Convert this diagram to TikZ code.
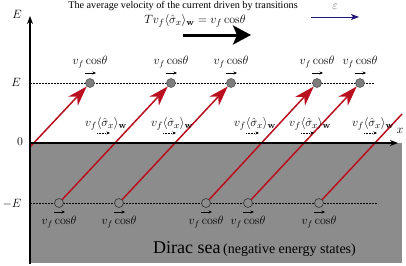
\documentclass[tikz,border=0pt]{standalone}
\usepackage[no-math]{fontspec}
\setmainfont{Liberation Serif}
\usetikzlibrary{arrows.meta}
\definecolor{seagray}{RGB}{140,140,140}
\definecolor{redln}{RGB}{185,15,30}
\definecolor{navyarr}{RGB}{30,20,120}
\definecolor{dotfill}{RGB}{125,125,125}
\definecolor{epsgray}{RGB}{90,90,90}
\newcommand{\vcos}{v_f\,\mathrm{cos}\theta}
\tikzset{
  upc/.style={circle, draw=black!70, fill=dotfill, inner sep=0pt, minimum size=9pt, line width=0.5pt},
  lowc/.style={circle, draw=black!80, fill=seagray, inner sep=0pt, minimum size=9pt, line width=0.6pt},
  redarrow/.style={draw=redln, line width=1.5pt, -{Stealth[length=20pt,width=13pt,inset=6pt]}},
  redplain/.style={draw=redln, line width=1.5pt},
  levelline/.style={dash pattern=on 1.6pt off 1.4pt, line width=0.6pt},
  vlab/.style={inner sep=0pt, font=\fontsize{12}{13}\selectfont},
  wlab/.style={inner sep=0pt, font=\fontsize{12.5}{13}\selectfont},
  smallarr/.style={line width=0.5pt, -{Stealth[length=3.5pt,width=3pt]}},
  dotarr/.style={line width=0.5pt, dash pattern=on 0.8pt off 0.8pt, -{Stealth[length=3.5pt,width=3pt]}},
  axislab/.style={inner sep=0pt, font=\fontsize{13}{14}\selectfont},
  axisline/.style={line width=1.3pt},
}
\begin{document}
\begin{tikzpicture}[x=1pt,y=-1pt]
\useasboundingbox (0,0) rectangle (406,265);
% Dirac sea
\fill[seagray] (30,143) rectangle (402,263);
% level lines
\coordinate (ul0) at (30,83); \coordinate (ul1) at (374,83);
\coordinate (ll0) at (30,203); \coordinate (ll1) at (378,203);
\draw[levelline] (ul0) -- (ul1);
\draw[levelline] (ll0) -- (ll1);
% circles
\foreach \i/\x in {1/90,2/171,3/231,4/317,5/360}{
  \node[upc] (u\i) at (\x,83) {};
  \node[vlab] (ut\i) at (\x,62) {$\vcos$};
  \coordinate (ua\i) at (\x-5,73);
  \coordinate (ub\i) at (\x+6,73);
  \draw[smallarr] (ua\i) -- (ub\i);
}
\foreach \i/\x in {1/59,2/119,3/206,4/248,5/319}{
  \node[lowc] (l\i) at (\x,203) {};
  \node[vlab] (lt\i) at (\x,222) {$\vcos$};
  \coordinate (la\i) at (\x-5,212);
  \coordinate (lb\i) at (\x+6,212);
  \draw[smallarr] (la\i) -- (lb\i);
}
% red transitions
\coordinate (s0) at (30,147);
\coordinate (e6) at (402,114);
\draw[redarrow] (s0) -- (u1);
\draw[redarrow] (l1) -- (u2);
\draw[redarrow] (l2) -- (u3);
\draw[redarrow] (l3) -- (u4);
\draw[redarrow] (l4) -- (u5);
\draw[redplain] (l5) -- (e6);
% middle labels
\foreach \i/\x in {1/106,2/172,3/255,4/310,5/373}{
  \node[wlab] (m\i) at (\x,124) {$v_f\langle\hat{\sigma}_x\rangle_{\mathbf{w}}$};
  \coordinate (ma\i) at (\x-9,133);
  \coordinate (mb\i) at (\x+4,133);
  \draw[dotarr] (ma\i) -- (mb\i);
}
% axes
\coordinate (yb) at (30,264); \coordinate (yt) at (30,16);
\coordinate (xl) at (30,143); \coordinate (xr) at (398,143);
\draw[axisline, -{Stealth[length=8pt,width=6pt]}] (yb) -- (yt);
\draw[axisline, -{Stealth[length=8pt,width=6pt]}] (xl) -- (xr);
\node[axislab] (yE) at (17,14) {$E$};
\node[axislab] (xx) at (400,131) {$x$};
\node[axislab] (lE) at (16,82) {$E$};
\node[axislab] (l0) at (20,142) {$0$};
\node[axislab] (lmE) at (12,204) {$-E$};
% title
\node[inner sep=0pt, font=\fontsize{10.2}{11}\selectfont] (title) at (183,6) {The average velocity of the current driven by transitions};
\node[inner sep=0pt, font=\fontsize{12.5}{13}\selectfont] (teq) at (195,21) {$Tv_f\langle\hat{\sigma}_x\rangle_{\mathbf{w}} = \vcos$};
\coordinate (ba) at (183,35); \coordinate (bb) at (251,35);
\draw[line width=3pt, -{Stealth[length=18pt,width=19pt,inset=4pt]}] (ba) -- (bb);
% field
\node[inner sep=0pt, text=epsgray, font=\fontsize{12}{13}\selectfont] (eps) at (335,7) {$\varepsilon$};
\coordinate (fa) at (311,17); \coordinate (fb) at (359,17);
\draw[navyarr, line width=0.9pt, -{Stealth[length=8pt,width=6pt,inset=2pt]}] (fa) -- (fb);
% Dirac sea label
\node[inner sep=0pt, anchor=base west] (sea) at (153,253) {{\fontsize{18}{19}\selectfont Dirac sea} {\fontsize{14}{15}\selectfont (negative energy states)}};
\end{tikzpicture}
\end{document}
